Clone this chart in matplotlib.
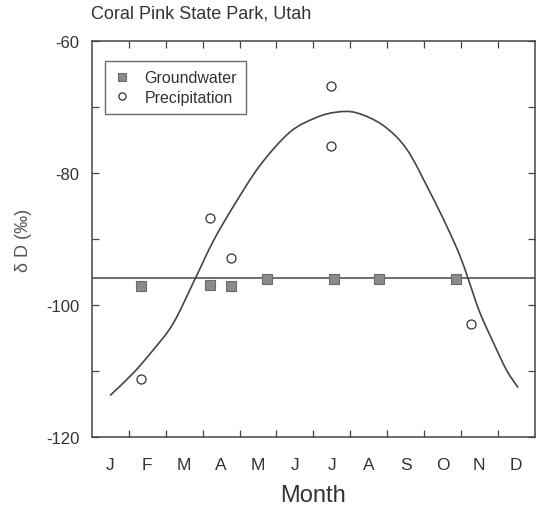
import numpy as np
import matplotlib
matplotlib.use("Agg")
import matplotlib.pyplot as plt
from matplotlib.ticker import MultipleLocator, FixedLocator
from matplotlib.path import Path
from matplotlib.patches import PathPatch

plt.rcParams['font.family'] = ['Liberation Sans', 'DejaVu Sans']
plt.rcParams['axes.unicode_minus'] = False

# datos (x en meses, 0 = inicio de enero)
months = ['J', 'F', 'M', 'A', 'M', 'J', 'J', 'A', 'S', 'O', 'N', 'D']

gw_x = [1.33, 3.21, 3.76, 4.74, 6.57, 7.78, 9.88]
gw_y = [-97.1, -97.0, -97.1, -96.0, -96.0, -96.0, -96.0]

pr_x = [1.33, 3.21, 3.76, 6.47, 6.47, 10.26]
pr_y = [-111.2, -86.9, -92.9, -66.8, -75.9, -102.9]

gw_mean = -95.9

# curva ajustada (puntos leidos a lo largo de la linea)
curve_x = [0.49, 1.12, 1.66, 2.20, 2.79, 3.29, 3.83, 4.55, 5.37, 6.09, 6.63,
           7.17, 7.89, 8.53, 9.16, 9.61, 9.97, 10.20, 10.51, 10.88, 11.24, 11.55]
curve_y = [-113.7, -110.3, -106.8, -102.8, -96.1, -90.3, -85.1, -78.9, -73.8,
           -71.6, -70.8, -70.9, -72.8, -76.4, -82.9, -88.0, -92.5, -96.1,
           -101.1, -105.7, -109.9, -112.5]


def trazo_suave(xs, ys):
    # camino bezier que pasa por los puntos leidos (solo para dibujar la linea suave)
    p = np.column_stack([xs, ys])
    verts = [p[0]]
    codes = [Path.MOVETO]
    for i in range(len(p) - 1):
        p0 = p[i - 1] if i > 0 else p[i]
        p3 = p[i + 2] if i + 2 < len(p) else p[i + 1]
        c1 = p[i] + (p[i + 1] - p0) / 6.0
        c2 = p[i + 1] - (p3 - p[i]) / 6.0
        verts += [c1, c2, p[i + 1]]
        codes += [Path.CURVE4] * 3
    return Path(verts, codes)


fig = plt.figure(figsize=(5.36, 5.10), dpi=100)
ax = fig.add_axes([0.1716, 0.141, 0.826, 0.777])

linec = '#454545'
ax.add_patch(PathPatch(trazo_suave(curve_x, curve_y), fill=False,
                       edgecolor=linec, lw=1.2, zorder=2))
ax.axhline(gw_mean, color=linec, lw=1.1, zorder=1)

ax.plot(gw_x, gw_y, ls='none', marker='s', ms=6.8, mfc='#8a8a8a', mec='#6a6a6a',
        mew=0.8, label='Groundwater', zorder=3)
ax.plot(pr_x, pr_y, ls='none', marker='o', ms=6.5, mfc='white', mec='#333333',
        mew=0.9, label='Precipitation', zorder=3)

ax.set_xlim(0, 12)
ax.set_ylim(-120, -60)

#ticks hacia dentro en los cuatro lados
ax.xaxis.set_major_locator(FixedLocator(np.arange(1, 12)))
ax.xaxis.set_minor_locator(FixedLocator(np.arange(12) + 0.5))
ax.set_xticklabels([], minor=False)
ax.set_xticklabels(months, minor=True)
ax.tick_params(axis='x', which='major', direction='in', top=True, length=5,
               width=0.9, color=linec)
ax.tick_params(axis='x', which='minor', length=0, pad=14, labelsize=12.5,
               labelcolor='#333333')

ax.yaxis.set_major_locator(MultipleLocator(20))
ax.yaxis.set_minor_locator(MultipleLocator(10))
ax.tick_params(axis='y', which='both', direction='in', right=True, length=5,
               width=0.9, color=linec, labelsize=12, labelcolor='#333333', pad=9)

for s in ax.spines.values():
    s.set_color(linec)
    s.set_linewidth(1.1)

ax.set_xlabel('Month', fontsize=17, color='#333333', labelpad=9)
ax.set_ylabel('δ D (‰)', fontsize=13, color='#555555', labelpad=10)

fig.text(0.170, 0.972, 'Coral Pink State Park, Utah', fontsize=13,
         color='#333333', ha='left', va='center')

leg = ax.legend(loc='upper left', bbox_to_anchor=(0.03, 0.948), fontsize=11.5,
                frameon=True, fancybox=False, borderpad=0.55, labelspacing=0.3,
                handletextpad=0.9, handlelength=1.0, borderaxespad=0,
                markerscale=0.8)
leg.get_frame().set_edgecolor(linec)
leg.get_frame().set_linewidth(1.0)
for t in leg.get_texts():
    t.set_color('#333333')

fig.savefig('out.png', dpi=100)
